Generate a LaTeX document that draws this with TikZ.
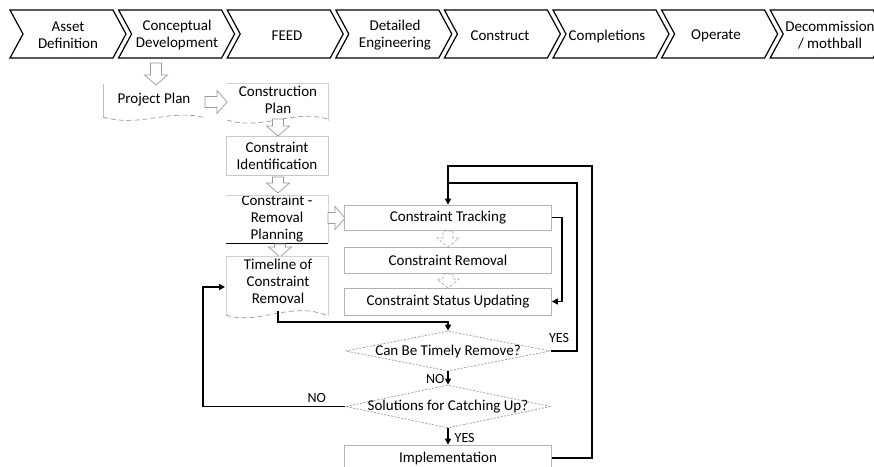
\documentclass[tikz,border=0pt]{standalone}
\usepackage{fontspec}
\setmainfont{Carlito}
\usetikzlibrary{shapes.geometric,arrows.meta}

\tikzset{
  x=1pt, y=-1pt,
  every node/.style={font=\fontsize{15}{17}\selectfont, inner sep=0pt, align=center},
  chevron/.style={draw=black, line width=1.2pt, line join=miter},
  softbox/.style={draw=black!22, line width=0.8pt, minimum width=102pt},
  darkbox/.style={draw=black!30, line width=0.8pt, minimum width=207pt},
  hollow/.style={draw=black!40, fill=white, line width=0.7pt},
  hollowdash/.style={draw=black!35, fill=white, line width=0.6pt, dash pattern=on 3pt off 2pt},
  wave/.style={draw=black!40, line width=0.7pt, dash pattern=on 5pt off 3pt},
  decision/.style={diamond, draw=black!40, line width=0.7pt, dash pattern=on 2pt off 1.5pt, minimum width=205pt, minimum height=40pt},
  flow/.style={draw=black, line width=1.4pt, -{Triangle[length=6pt,width=6pt]}},
  flowline/.style={draw=black, line width=1.4pt},
  lbl/.style={font=\fontsize{14}{16}\selectfont},
  pics/blockarrow/.style={code={
    \path[hollow] (0,-5.5) -- ({#1-10},-5.5) -- ({#1-10},-11.5) -- (#1,0)
      -- ({#1-10},11.5) -- ({#1-10},5.5) -- (0,5.5) -- cycle;}},
  pics/dasharrow/.style={code={
    \path[hollowdash] (0,-5) -- ({#1-9},-5) -- ({#1-9},-11) -- (#1,0)
      -- ({#1-9},11) -- ({#1-9},5) -- (0,5) -- cycle;}},
}

\begin{document}
\begin{tikzpicture}
\useasboundingbox (0,0) rectangle (874,466);
\fill[white] (0,0) rectangle (874,466);

% ---- life-cycle chevrons ----
\foreach \i in {0,...,7}{
  \pgfmathsetmacro{\L}{10+108.6*\i}
  \pgfmathsetmacro{\R}{\L+103}
  \draw[chevron] (\L,10) -- (\R,10) -- (\R+13,34) -- (\R,58) -- (\L,58) -- (\L+13,34) -- cycle;
}
\node (phA) at ( 68,35) {Asset\\Definition};
\node (phB) at (177,35) {Conceptual\\Development};
\node (phC) at (287,36) {FEED};
\node (phD) at (395,35) {Detailed\\Engineering};
\node (phE) at (500,36) {Construct};
\node (phF) at (607,36) {Completions};
\node (phG) at (716,36) {Operate};
\node (phH) at (830,35) {Decommission\\/ mothball};

% ---- planning documents ----
\pic[rotate=-90] at (156,63) {blockarrow=22};

% Project Plan
\draw[draw=black!25, line width=0.7pt] (103,118) -- (103,84);
\draw[wave] (103,117) .. controls (140,128) and (170,108) .. (206,118);
\node (pplan) at (154,100) {Project Plan};
\pic at (205,102) {blockarrow=22};

% Construction Plan
\draw[draw=black!18, line width=0.7pt] (227,83) -- (328,83) -- (328,121);
\draw[wave] (227,120) .. controls (262,131) and (292,109) .. (328,119);
\node (cplan) at (278,100) {Construction\\Plan};
\pic[rotate=-90] at (278,119) {blockarrow=17};

% Constraint Identification
\node[softbox, minimum height=39pt] (cid) at (277,156) {Constraint\\Identification};
\pic[rotate=-90] at (278,177) {blockarrow=16};

% Constraint-removal planning
\node[minimum width=102pt, minimum height=48pt] (crp) at (277,219) {Constraint -\\Removal\\Planning};
\draw[draw=black!18, line width=0.7pt] (226,195) -- (328,195) -- (328,243);
\draw[draw=black, line width=1.2pt] (crp.south west) -- (crp.south east);
\pic at (328,218) {blockarrow=17};
\pic[rotate=-90] at (280,244) {blockarrow=13};

% Timeline document
\draw[draw=black!18, line width=0.7pt] (226,316) -- (226,256) -- (328,256) -- (328,316);
\draw[wave] (226,315) .. controls (258,326) and (292,300) .. (328,316);
\node (tl) at (278,281) {Timeline of\\Constraint\\Removal};
\coordinate (tlout) at (278,311);

% ---- tracking loop ----
\node[darkbox, minimum height=25pt] (trk) at (448,217.5) {Constraint Tracking};
\node[darkbox, minimum height=26pt] (rem) at (448,260) {Constraint Removal};
\node[darkbox, minimum height=27pt] (upd) at (448,301.5) {Constraint Status Updating};
\pic[rotate=-90] at (448,231) {dasharrow=16};
\pic[rotate=-90] at (448,274) {dasharrow=14};

\node[decision] (d1) at (448,351) {};
\node at (d1) {Can Be Timely Remove?};
\node[decision, minimum height=43pt] (d2) at (448,406.5) {};
\node at (d2) {Solutions for Catching Up?};
\node[darkbox, minimum height=26pt] (impl) at (448,458) {Implementation};

\coordinate (tlwest) at (225,287);

\draw[flow] (tlout) |- (448,322) -- (d1.north);
\draw[flow] (trk.east) -- ++(10,0) |- (upd.east);
\draw[flow] (d1.south) -- node[lbl, left=3pt, pos=0.55] {NO} (d2.north);
\draw[flow] (d2.south) -- node[lbl, right=6pt, pos=0.6] {YES} (impl.north);
\draw[flow] (d2.west) -- node[lbl, above=3pt, pos=0.2] {NO} (203,406.5) |- (tlwest);
\draw[flow] (d1.east) -- (577,351) |- (448,183) -- (trk.north);
\node[lbl] (yes1) at (559,338) {YES};
\draw[flowline] (impl.east) -- ++(40,0) |- (448,166) -- (448,183);
\end{tikzpicture}
\end{document}
